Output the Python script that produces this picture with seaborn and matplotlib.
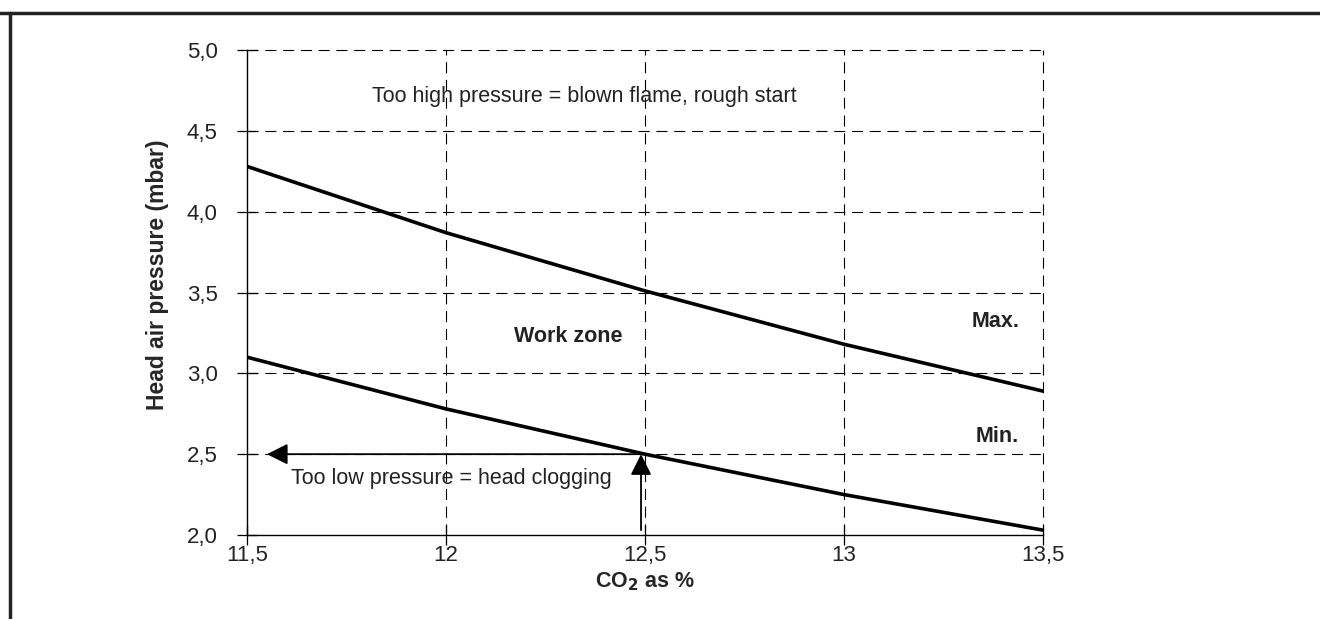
import matplotlib
matplotlib.use("Agg")
import matplotlib.pyplot as plt
import seaborn as sns
import pandas as pd
from matplotlib.lines import Line2D

co2 = [11.5, 12.0, 12.5, 13.0, 13.5]
p_max = [4.28, 3.87, 3.51, 3.18, 2.89]
p_min = [3.10, 2.78, 2.50, 2.25, 2.03]
x_ticks = [11.5, 12.0, 12.5, 13.0, 13.5]
x_labels = ["11,5", "12", "12,5", "13", "13,5"]
y_ticks = [2.0, 2.5, 3.0, 3.5, 4.0, 4.5, 5.0]
y_labels = ["2,0", "2,5", "3,0", "3,5", "4,0", "4,5", "5,0"]

sns.set_theme(style="white")
plt.rcParams['font.family'] = ['Liberation Sans', 'DejaVu Sans']

df = pd.DataFrame({"co2": co2 * 2,
                   "p": p_max + p_min,
                   "curve": ["Max."] * 5 + ["Min."] * 5})

fig = plt.figure(figsize=(13.2, 6.19), dpi=100)
ax = fig.add_axes([247 / 1320, 1 - 535 / 619, (1043 - 247) / 1320, (535 - 50) / 619])

# grid
for yv in y_ticks[1:]:
    ax.axhline(yv, color="black", lw=0.8, ls=(0, (10, 6)), zorder=1, clip_on=False)
for xv in x_ticks[1:]:
    ax.axvline(xv, color="black", lw=0.8, ls=(0, (10, 6)), zorder=1, clip_on=False)

sns.lineplot(data=df, x="co2", y="p", units="curve", estimator=None,
             color="black", lw=2.6, ax=ax, legend=False, zorder=3)

ax.set_xlim(11.5, 13.5)
ax.set_ylim(2.0, 5.0)
ax.set_xticks(x_ticks)
ax.set_xticklabels(x_labels)
ax.set_yticks(y_ticks)
ax.set_yticklabels(y_labels)
ax.tick_params(axis="both", bottom=True, left=True, direction="inout",
               length=14, width=0.9, labelsize=16, colors="black",
               labelcolor="#222222")
ax.tick_params(axis="x", pad=0)
ax.tick_params(axis="y", pad=14)
for s in ["top", "right"]:
    ax.spines[s].set_visible(False)
for s in ["left", "bottom"]:
    ax.spines[s].set_color("black")
    ax.spines[s].set_linewidth(1.0)

ax.set_xlabel("CO$_\\mathbf{2}$ as %", fontsize=15.5, fontweight="bold")
ax.set_ylabel("Head air pressure (mbar)", fontsize=16.5, fontweight="bold")
ax.xaxis.set_label_coords(0.5, -0.097)
ax.yaxis.set_label_coords(-0.113, 0.536)
ax.xaxis.label.set_va("center")
ax.yaxis.label.set_va("center")

# arrows
ax.annotate("", xy=(11.55, 2.5), xytext=(12.5, 2.5),
            arrowprops=dict(arrowstyle="-|>", color="black", lw=1.3,
                            mutation_scale=32, shrinkA=0, shrinkB=0), zorder=4)
ax.annotate("", xy=(12.49, 2.5), xytext=(12.49, 2.03),
            arrowprops=dict(arrowstyle="-|>", color="black", lw=1.3,
                            mutation_scale=32, shrinkA=0, shrinkB=0), zorder=4)

ax.text(11.815, 4.71, "Too high pressure = blown flame, rough start",
        fontsize=15.5, color="#222222", va="center", ha="left")
ax.text(12.17, 3.23, "Work zone", fontsize=15.5, fontweight="bold",
        color="#222222", va="center", ha="left")
ax.text(13.32, 3.32, "Max.", fontsize=15.5, fontweight="bold",
        color="#222222", va="center", ha="left")
ax.text(13.33, 2.61, "Min.", fontsize=15.5, fontweight="bold",
        color="#222222", va="center", ha="left")
ax.text(11.61, 2.35, "Too low pressure = head clogging",
        fontsize=15.5, color="#222222", va="center", ha="left")

# figure frame (top and left)
fig.add_artist(Line2D([0, 1], [1 - 12.5 / 619, 1 - 12.5 / 619],
                      transform=fig.transFigure, color="#222222", lw=2.5))
fig.add_artist(Line2D([10 / 1320, 10 / 1320], [0, 1 - 12.5 / 619],
                      transform=fig.transFigure, color="#222222", lw=2.5))

fig.savefig("out.png", dpi=100)
